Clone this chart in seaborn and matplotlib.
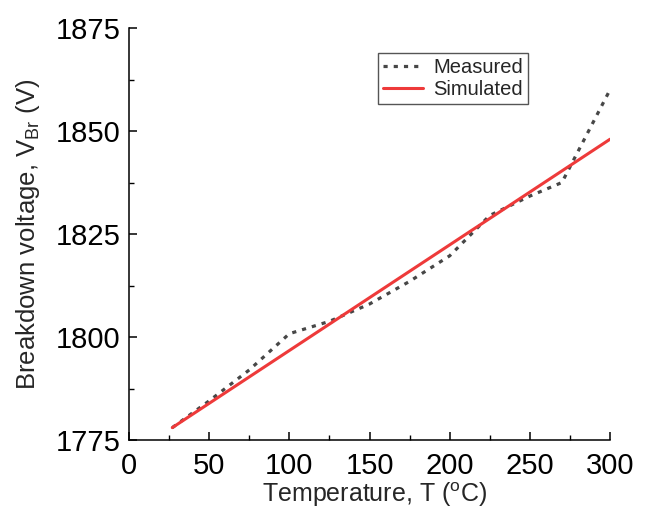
import matplotlib
matplotlib.use("Agg")
import matplotlib.pyplot as plt
import seaborn as sns
import pandas as pd
from matplotlib.ticker import MultipleLocator

# Data
meas_T = [27, 50, 75, 100, 125, 150, 175, 200, 225, 250, 270, 300]
meas_V = [1778, 1784.5, 1792, 1800.8, 1803.8, 1808, 1813.5, 1819.7, 1829.5, 1834.2, 1837.5, 1860]
sim_T = [27, 300]
sim_V = [1778, 1848]

sns.set_style("ticks")
plt.rcParams['font.family'] = ['Liberation Sans', 'DejaVu Sans']
plt.rcParams['mathtext.fontset'] = 'custom'
plt.rcParams['mathtext.rm'] = 'Liberation Sans'
plt.rcParams['mathtext.it'] = 'Liberation Sans:italic'

df_m = pd.DataFrame({'T': meas_T, 'V': meas_V})
df_s = pd.DataFrame({'T': sim_T, 'V': sim_V})

fig = plt.figure(figsize=(6.49, 5.12), dpi=100)
ax = fig.add_axes([129/649, 1-440/512, (610-129)/649, (440-28)/512])

sns.lineplot(data=df_m, x='T', y='V', ax=ax, color='#474747', linestyle=(0, (1.3, 1.9)),
             linewidth=2.3, label='Measured')
sns.lineplot(data=df_s, x='T', y='V', ax=ax, color='#EE3A3A', linestyle='-',
             linewidth=2.2, label='Simulated')

ax.set_xlim(0, 300)
ax.set_ylim(1775, 1875)
ax.xaxis.set_major_locator(MultipleLocator(50))
ax.xaxis.set_minor_locator(MultipleLocator(25))
ax.yaxis.set_major_locator(MultipleLocator(25))
ax.yaxis.set_minor_locator(MultipleLocator(12.5))

for s in ['top', 'right']:
    ax.spines[s].set_visible(False)
for s in ['left', 'bottom']:
    ax.spines[s].set_linewidth(1.1)
    ax.spines[s].set_color('black')

ax.tick_params(which='major', direction='in', length=5.8, width=1.1, labelsize=21, colors='black')
ax.tick_params(which='minor', direction='in', length=3.6, width=1.0, colors='black')
ax.tick_params(axis='x', which='major', pad=9)
ax.tick_params(axis='y', which='major', pad=6)

ax.set_xlabel('Temperature, T ($^{\\mathrm{o}}$C)', fontsize=18, labelpad=0)
ax.set_ylabel('Breakdown voltage, V$_{\\mathrm{Br}}$ (V)', fontsize=18.5, labelpad=10)
ax.xaxis.label.set_x(0.511)

leg = ax.legend(loc='upper left', bbox_to_anchor=(0.517, 0.94), fontsize=14.5,
                frameon=True, fancybox=False, edgecolor='#555555', framealpha=1,
                handlelength=2.0, handletextpad=0.5, borderpad=0.25, labelspacing=0.15,
                borderaxespad=0)
leg.get_frame().set_linewidth(1.0)

fig.savefig('out.png', dpi=100)
